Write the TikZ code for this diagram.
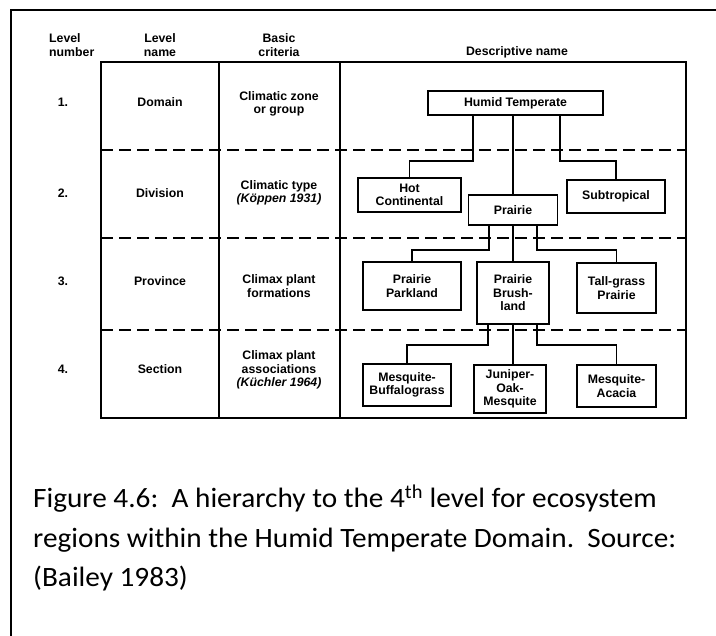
\documentclass[tikz,border=0pt]{standalone}
\usepackage{fontspec}
\setmainfont{Liberation Sans}
\newfontfamily\capfont{Carlito}

\tikzset{
  txt/.style={font=\bfseries\fontsize{12.3}{13.5}\selectfont, align=center, inner sep=0pt},
  box/.style={txt, draw, line width=1.5pt},
  link/.style={line width=1.7pt},
  rowsep/.style={line width=1.5pt, dash pattern=on 12pt off 6pt},
}

\begin{document}
\begin{tikzpicture}[x=1pt,y=-1pt]
\useasboundingbox (0,0) rectangle (716,636);

% -------------------------------------------------
% Frame
% -------------------------------------------------
\draw[line width=1.5pt] (716,10) -- (11,10) -- (11,636);

% -------------------------------------------------
% Column heads
% -------------------------------------------------
\node[txt, align=left, anchor=west] (hnum) at (49,45) {Level\\number};
\node[txt] (hname) at (160,45) {Level\\name};
\node[txt] (hcrit) at (279,45) {Basic\\criteria};
\node[txt] (hdesc) at (517,52) {Descriptive name};

% -------------------------------------------------
% Table (columns, dashed rows)
% -------------------------------------------------
\draw[line width=1.5pt] (101,62) rectangle (686,418);
\draw[line width=1.5pt] (219,62) -- (219,418);
\draw[line width=1.5pt] (340,62) -- (340,418);
\foreach \y in {150,238,330}
  \draw[rowsep] (101,\y) -- (686,\y);

% -------------------------------------------------
% Levels : number, name
% -------------------------------------------------
\foreach \n/\y/\lname in {1/102/Domain,2/193/Division,3/281/Province,4/369/Section}{
  \node[txt] (num\n) at (63,\y) {\n.};
  \node[txt] (name\n) at (160,\y) {\lname};
}

% -------------------------------------------------
% Basic criteria
% -------------------------------------------------
\node[txt] (crit1) at (279,104) {Climatic zone\\or group};
\node[txt] (crit2) at (279,193) {Climatic type\\\textit{(Köppen 1931)}};
\node[txt] (crit3) at (279,286) {Climax plant\\formations};
\node[txt] (crit4) at (279,370) {Climax plant\\associations\\\textit{(Küchler 1964)}};

% -------------------------------------------------
% Descriptive names (boxes)
% -------------------------------------------------
\node[box, minimum width=175, minimum height=24] (ht) at (515.5,103) {Humid Temperate};

\node[box, minimum width=103, minimum height=34] (hc) at (409.5,195) {Hot\\Continental};
\node[box, minimum width=89, minimum height=30] (pr) at (513,210) {Prairie};
\node[box, minimum width=98, minimum height=33] (st) at (616,196.5) {Subtropical};

\node[box, minimum width=98, minimum height=48] (pp) at (412,286) {Prairie\\Parkland};
\node[box, minimum width=72, minimum height=62] (pb) at (513,293) {Prairie\\Brush-\\land};
\node[box, minimum width=79, minimum height=50] (tg) at (616.5,288) {Tall-grass\\Prairie};

\node[box, minimum width=88, minimum height=42] (mb) at (407,385) {Mesquite-\\Buffalograss};
\node[box, minimum width=72, minimum height=48] (jo) at (510,389) {Juniper-\\Oak-\\Mesquite};
\node[box, minimum width=79, minimum height=42] (ma) at (616.5,386) {Mesquite-\\Acacia};

% -------------------------------------------------
% Links
% -------------------------------------------------
\draw[link] ([xshift=-42.5]ht.south) -- ++(0,45) -| (hc.north);
\draw[link] (pr.north) -- (pr.north |- ht.south);
\draw[link] ([xshift=44.5]ht.south) -- ++(0,45) -| (st.north);

\draw[link] ([xshift=-24]pr.south) -- ++(0,24) -| (pp.north);
\draw[link] (pb.north) -- (pb.north |- pr.south);
\draw[link] ([xshift=24]pr.south) -- ++(0,24) -| (tg.north);

\draw[link] ([xshift=-25]pb.south) -- ++(0,20) -| (mb.north);
\draw[link] (pb.south) -- (pb.south |- jo.north);
\draw[link] ([xshift=24]pb.south) -- ++(0,20) -| (ma.north);

% -------------------------------------------------
% Caption
% -------------------------------------------------
\node[anchor=north west, align=left, inner sep=0pt, xscale=1.045, transform shape,
      font=\capfont\fontsize{28}{39.5}\selectfont] (cap) at (33,485)
  {Figure 4.6:\ \ A hierarchy to the 4\textsuperscript{th} level for ecosystem\\
   regions within the Humid Temperate Domain.\ \ Source:\\
   (Bailey 1983)};

\end{tikzpicture}
\end{document}
